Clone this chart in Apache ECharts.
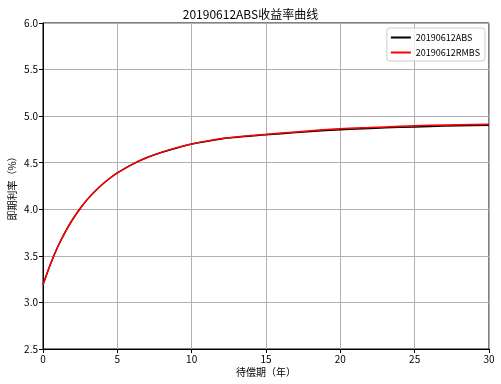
<!DOCTYPE html>
<html><head><meta charset="utf-8">
<script src="https://cdn.jsdelivr.net/npm/echarts@6/dist/echarts.min.js"></script>
<style>html,body{margin:0;padding:0;background:#fff}#c{width:501px;height:384px}</style>
</head><body><div id="c"></div>
<script>
var tenors = [0,0.5,1,1.5,2,2.5,3,3.5,4,4.5,5,6,7,8,9,10,12,14,15,16,18,20,22,24,26,28,30];
var absRates = [3.19,3.41,3.60,3.758,3.893,4.009,4.109,4.194,4.269,4.333,4.39,4.483,4.556,4.613,4.659,4.70,4.755,4.787,4.80,4.811,4.836,4.855,4.868,4.880,4.889,4.897,4.903];
var rmbsRates = [3.19,3.41,3.60,3.758,3.893,4.009,4.109,4.194,4.269,4.333,4.39,4.483,4.556,4.614,4.662,4.702,4.76,4.793,4.805,4.818,4.843,4.864,4.878,4.891,4.901,4.908,4.914];
var seriesNames = ['20190612ABS','20190612RMBS'];
var titleText = '20190612ABS收益率曲线';
var xName = '待偿期（年）';
var yName = '即期利率（%）';
var FONT = '"Noto Sans CJK SC", "DejaVu Sans", sans-serif';
function pairs(xs, ys){ return xs.map(function(x,i){return [x, ys[i]];}); }
var chart = echarts.init(document.getElementById('c'), null, {renderer:'canvas'});
chart.setOption({
  animation:false,
  backgroundColor:'#fff',
  title:{text:titleText,left:'center',top:3,textStyle:{fontFamily:FONT,fontSize:12,fontWeight:'normal',color:'#000'}},
  grid:{left:43,right:12,top:23,bottom:35,containLabel:false,outerBoundsMode:'none',show:true,borderColor:'#000',borderWidth:1,backgroundColor:'transparent'},
  legend:{right:16,top:28,orient:'vertical',itemWidth:20,itemHeight:2,itemGap:6,padding:[5,5,4,4],
    borderColor:'#ccc',borderWidth:1,borderRadius:3,backgroundColor:'rgba(255,255,255,0.8)',
    textStyle:{fontFamily:FONT,fontSize:9,color:'#000'},icon:'rect',
    data:seriesNames},
  xAxis:{type:'value',min:0,max:30,interval:5,name:xName,nameLocation:'middle',nameGap:18,nameMoveOverlap:false,
    nameTextStyle:{fontFamily:FONT,fontSize:10,color:'#000'},
    axisLine:{show:true,lineStyle:{color:'#000'}},axisTick:{show:true,length:4,lineStyle:{color:'#000'}},
    axisLabel:{fontFamily:FONT,fontSize:10,color:'#000',margin:5},
    splitLine:{show:true,lineStyle:{color:'#b0b0b0',width:1}}},
  yAxis:{type:'value',min:2.5,max:6.0,interval:0.5,name:yName,nameLocation:'middle',nameGap:26,nameMoveOverlap:false,
    nameTextStyle:{fontFamily:FONT,fontSize:10,color:'#000'},
    axisLine:{show:true,lineStyle:{color:'#000'}},axisTick:{show:true,length:4,lineStyle:{color:'#000'}},
    axisLabel:{fontFamily:FONT,fontSize:10,color:'#000',margin:5,formatter:function(v){return v.toFixed(1);}},
    splitLine:{show:true,lineStyle:{color:'#b0b0b0',width:1}}},
  series:[
    {name:seriesNames[0],type:'line',data:pairs(tenors,absRates),smooth:0.3,showSymbol:false,symbol:'none',
      lineStyle:{color:'#000',width:1.5},itemStyle:{color:'#000'}},
    {name:seriesNames[1],type:'line',data:pairs(tenors,rmbsRates),smooth:0.3,showSymbol:false,symbol:'none',
      lineStyle:{color:'#ff0000',width:1.5},itemStyle:{color:'#ff0000'}}
  ]
});
</script></body></html>
